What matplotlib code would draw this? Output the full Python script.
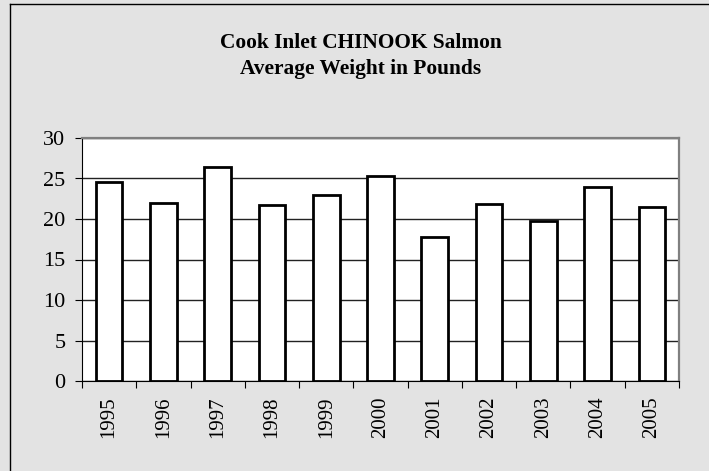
import matplotlib
matplotlib.use("Agg")
import matplotlib.pyplot as plt
import numpy as np

# data
years = ["1995", "1996", "1997", "1998", "1999", "2000",
         "2001", "2002", "2003", "2004", "2005"]
weights = [24.6, 22.0, 26.4, 21.7, 22.95, 25.3, 17.8, 21.8, 19.7, 23.9, 21.5]
y_ticks = [0, 5, 10, 15, 20, 25, 30]

plt.rcParams['font.family'] = ['Liberation Serif', 'DejaVu Serif']

fig = plt.figure(figsize=(7.09, 4.71), dpi=100)
fig.patch.set_facecolor('#e3e3e3')

# outer chart border (only top and left show in the picture)
fig.add_artist(plt.Line2D([10/709, 10/709], [0, 1 - 4/471], color='black', lw=1))
fig.add_artist(plt.Line2D([10/709, 1], [1 - 4/471, 1 - 4/471], color='black', lw=1))

ax = fig.add_axes([82/709, 90/471, 597/709, 243/471])
ax.set_facecolor('white')

x = np.arange(len(years))
ax.bar(x, weights, width=0.49, color='white', edgecolor='black', linewidth=2.0, zorder=3)

ax.set_xlim(-0.5, len(years) - 0.5)
ax.set_ylim(0, 30)
ax.set_yticks(y_ticks)
ax.yaxis.grid(True, color='#222222', linewidth=1)
ax.set_axisbelow(True)

# ticks between categories, labels in the middle
ax.set_xticks(np.arange(-0.5, len(years), 1))
ax.set_xticklabels([])
ax.set_xticks(x, minor=True)
ax.set_xticklabels(years, minor=True, rotation=90, fontsize=15)
ax.tick_params(axis='x', which='minor', length=0, pad=11)
ax.tick_params(axis='x', which='major', direction='out', length=5, color='black')
ax.tick_params(axis='y', direction='out', length=5, labelsize=16, pad=7)

for s in ['top', 'right']:
    ax.spines[s].set_color('#808080')
    ax.spines[s].set_linewidth(1.6)
ax.spines['left'].set_color('black')
ax.spines['bottom'].set_color('black')
ax.spines['bottom'].set_zorder(4)

fig.text(361/709, 1 - 56/471, 'Cook Inlet CHINOOK Salmon\nAverage Weight in Pounds',
         ha='center', va='center', fontsize=15.4, fontweight='bold', linespacing=1.38)

fig.savefig('out.png', dpi=100, facecolor=fig.get_facecolor())
